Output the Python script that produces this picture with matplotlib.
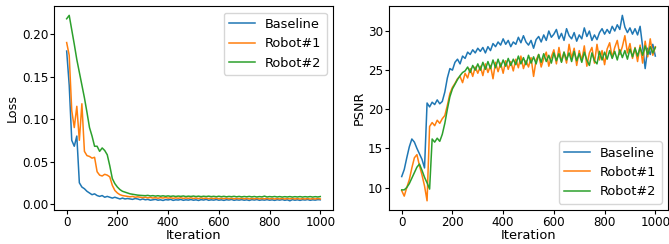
import numpy as np
import matplotlib
matplotlib.use('Agg')
import matplotlib.pyplot as plt

# iteration grid (values read every 10 iterations)
iters = np.arange(0, 1001, 10)

# Loss curves
loss_baseline = [
    0.180, 0.140, 0.075, 0.068, 0.080, 0.025, 0.020, 0.018, 0.015, 0.013,
    0.011, 0.012, 0.010, 0.009, 0.010, 0.008, 0.009, 0.008, 0.007, 0.008,
    0.007, 0.006, 0.007, 0.006, 0.0065, 0.006, 0.0055, 0.0065, 0.006, 0.005,
    0.006, 0.005, 0.0055, 0.0045, 0.005, 0.0055, 0.0045, 0.005, 0.0042, 0.0052,
    0.0048, 0.0055, 0.0043, 0.005, 0.0047, 0.0054, 0.0044, 0.005, 0.0046, 0.0053,
    0.0045, 0.005, 0.0042, 0.0052, 0.0047, 0.0055, 0.0044, 0.005, 0.0046, 0.0053,
    0.0045, 0.005, 0.0043, 0.0051, 0.0047, 0.0054, 0.0044, 0.005, 0.0046, 0.0052,
    0.0045, 0.005, 0.0042, 0.0052, 0.0047, 0.0053, 0.0044, 0.005, 0.0046, 0.0052,
    0.0045, 0.005, 0.0043, 0.0051, 0.0046, 0.0053, 0.0044, 0.005, 0.0038, 0.0052,
    0.0045, 0.005, 0.0043, 0.0051, 0.0047, 0.0053, 0.0044, 0.005, 0.0046, 0.0052,
    0.005]
loss_robot1 = [
    0.190, 0.175, 0.110, 0.090, 0.115, 0.075, 0.118, 0.062, 0.057, 0.056,
    0.054, 0.055, 0.038, 0.034, 0.033, 0.035, 0.034, 0.032, 0.022, 0.016,
    0.013, 0.011, 0.010, 0.0095, 0.009, 0.0085, 0.009, 0.008, 0.0085, 0.008,
    0.0075, 0.008, 0.0072, 0.0078, 0.007, 0.0076, 0.0068, 0.0075, 0.007, 0.0077,
    0.0069, 0.0074, 0.0067, 0.0073, 0.0068, 0.0074, 0.0066, 0.0072, 0.0067, 0.0073,
    0.0065, 0.0071, 0.0064, 0.0072, 0.0065, 0.007, 0.0063, 0.0069, 0.0064, 0.007,
    0.0062, 0.0068, 0.0063, 0.0069, 0.0062, 0.0068, 0.0061, 0.0067, 0.0062, 0.0068,
    0.0061, 0.0067, 0.006, 0.0066, 0.0061, 0.0067, 0.006, 0.0066, 0.0061, 0.0067,
    0.006, 0.0066, 0.0059, 0.0065, 0.006, 0.0066, 0.0059, 0.0065, 0.006, 0.0066,
    0.0059, 0.0065, 0.0058, 0.0064, 0.0059, 0.0065, 0.0058, 0.0064, 0.0059, 0.0065,
    0.006]
loss_robot2 = [
    0.218, 0.222, 0.205, 0.188, 0.170, 0.155, 0.140, 0.125, 0.108, 0.090,
    0.080, 0.068, 0.068, 0.062, 0.066, 0.063, 0.058, 0.045, 0.030, 0.024,
    0.020, 0.017, 0.015, 0.014, 0.013, 0.012, 0.0115, 0.011, 0.0105, 0.0102,
    0.010, 0.0098, 0.0102, 0.0095, 0.0099, 0.0093, 0.0098, 0.0092, 0.0097, 0.0091,
    0.0096, 0.009, 0.0095, 0.0089, 0.0094, 0.009, 0.0095, 0.0088, 0.0093, 0.0089,
    0.0094, 0.0088, 0.0093, 0.0087, 0.0092, 0.0088, 0.0093, 0.0087, 0.0091, 0.0086,
    0.0092, 0.0086, 0.0091, 0.0085, 0.009, 0.0086, 0.0091, 0.0085, 0.009, 0.0084,
    0.0089, 0.0085, 0.009, 0.0084, 0.0089, 0.0083, 0.0088, 0.0084, 0.0093, 0.0083,
    0.0088, 0.0084, 0.0089, 0.0083, 0.0088, 0.0082, 0.0087, 0.0083, 0.0088, 0.0082,
    0.0087, 0.0083, 0.0088, 0.0082, 0.0087, 0.0083, 0.0088, 0.0082, 0.0087, 0.0083,
    0.0088]

# PSNR curves
psnr_baseline = [
    11.4, 12.3, 13.8, 15.2, 16.2, 15.8, 15.0, 14.3, 13.6, 12.5,
    20.8, 20.3, 20.9, 20.6, 21.2, 20.7, 21.0, 22.2, 24.0, 25.2,
    25.0, 26.0, 26.4, 25.8, 26.8, 26.5, 27.3, 27.0, 27.6, 27.2,
    27.8, 27.4, 27.9, 27.2, 28.0, 27.5, 28.4, 28.0, 28.6, 28.2,
    29.0, 28.3, 28.8, 28.0, 28.6, 28.3, 29.2, 28.5, 29.4, 28.6,
    28.2, 28.8, 27.8, 28.9, 29.3, 28.6, 29.5, 28.8, 30.0, 29.2,
    29.6, 30.2, 29.0, 29.7, 28.8, 30.3, 29.4, 29.0, 29.8, 28.7,
    29.5, 29.0, 30.4, 29.3, 30.0, 28.8, 29.5, 28.9, 29.8, 30.3,
    29.6, 30.2, 29.7, 30.6, 30.0, 30.8, 30.2, 32.0, 30.5, 29.8,
    30.4, 29.6, 30.3, 29.5, 30.6, 28.0, 25.2, 27.8, 27.0, 28.3,
    26.8]
psnr_robot1 = [
    9.6, 8.9, 10.0, 11.0, 12.5, 13.8, 14.2, 12.8, 11.6, 10.2,
    8.3, 17.8, 18.3, 17.9, 18.6, 18.2, 18.8, 19.2, 20.5, 22.0,
    22.8, 23.3, 23.9, 24.2, 23.4, 24.6, 24.0, 25.2, 24.2, 25.4,
    24.6, 25.5, 24.3, 25.8, 24.7, 25.6, 23.9, 26.0, 24.8, 25.9,
    24.6, 26.2, 25.1, 26.1, 24.9, 26.4, 25.3, 26.8, 25.2, 26.2,
    25.4, 26.6, 24.2, 26.3, 27.0, 25.4, 26.5, 27.3, 25.5, 26.7,
    27.6, 25.8, 27.9, 26.1, 27.3, 25.9, 28.3, 26.5, 27.8, 25.6,
    27.5, 26.2, 28.1, 25.5, 27.2, 27.9, 25.9, 28.3, 26.3, 27.5,
    25.7, 27.7, 28.5, 26.6, 27.9, 28.8, 27.0, 28.0, 29.4, 27.2,
    28.4, 26.5, 27.9, 26.1, 28.2, 25.9, 28.7, 26.7, 29.0, 26.9,
    28.0]
psnr_robot2 = [
    9.7, 9.7, 10.0, 10.5, 11.2, 11.9, 12.6, 13.0, 12.2, 11.3,
    10.6, 9.8, 16.2, 15.8, 16.3, 15.9, 16.8, 18.2, 20.0, 21.6,
    22.6, 23.2, 23.8, 24.3, 24.7, 24.9, 25.4, 24.7, 25.6, 25.0,
    25.8, 25.0, 26.0, 25.1, 26.1, 25.2, 26.3, 25.3, 26.4, 25.4,
    26.3, 25.5, 26.5, 25.6, 26.4, 25.7, 26.8, 25.8, 26.6, 25.7,
    26.9, 25.9, 26.7, 25.8, 27.0, 26.0, 27.1, 26.1, 26.9, 25.9,
    27.2, 26.2, 27.1, 26.0, 27.3, 26.3, 27.2, 26.1, 27.4, 26.2,
    27.1, 26.0, 27.3, 26.3, 25.6, 27.2, 26.2, 25.8, 27.4, 26.3,
    27.3, 26.4, 27.5, 26.5, 27.4, 26.3, 27.6, 26.6, 27.5, 26.4,
    27.7, 26.7, 27.8, 26.8, 27.9, 26.9, 28.1, 27.0, 28.0, 27.2,
    27.9]

labels = ['Baseline', 'Robot#1', 'Robot#2']

matplotlib.rc('font', size=9)
matplotlib.rc('xtick', labelsize=8.6)
matplotlib.rc('ytick', labelsize=8.6)

fig = plt.figure(figsize=(6.69, 2.44), dpi=100)
ax1 = fig.add_axes([0.0807, 0.139, 0.417, 0.836])
ax2 = fig.add_axes([0.5815, 0.139, 0.417, 0.836])

for ax, series, ylabel, loc in [
        (ax1, [loss_baseline, loss_robot1, loss_robot2], 'Loss', 'upper right'),
        (ax2, [psnr_baseline, psnr_robot1, psnr_robot2], 'PSNR', 'lower right')]:
    for s, lab in zip(series, labels):
        ax.plot(iters, s, label=lab, linewidth=1.1)
    ax.set_xlabel('Iteration', fontsize=9.4, labelpad=-0.5)
    ax.set_ylabel(ylabel, fontsize=9.2, labelpad=2)
    ax.set_xticks([0, 200, 400, 600, 800, 1000])
    ax.tick_params(axis='x', length=3, pad=1.5)
    ax.tick_params(axis='y', length=3, pad=1.2)
    ax.legend(loc=loc, fontsize=9.3)

ax1.set_yticks([0.0, 0.05, 0.10, 0.15, 0.20])
ax2.set_yticks([10, 15, 20, 25, 30])

fig.savefig('out.png', dpi=100)
